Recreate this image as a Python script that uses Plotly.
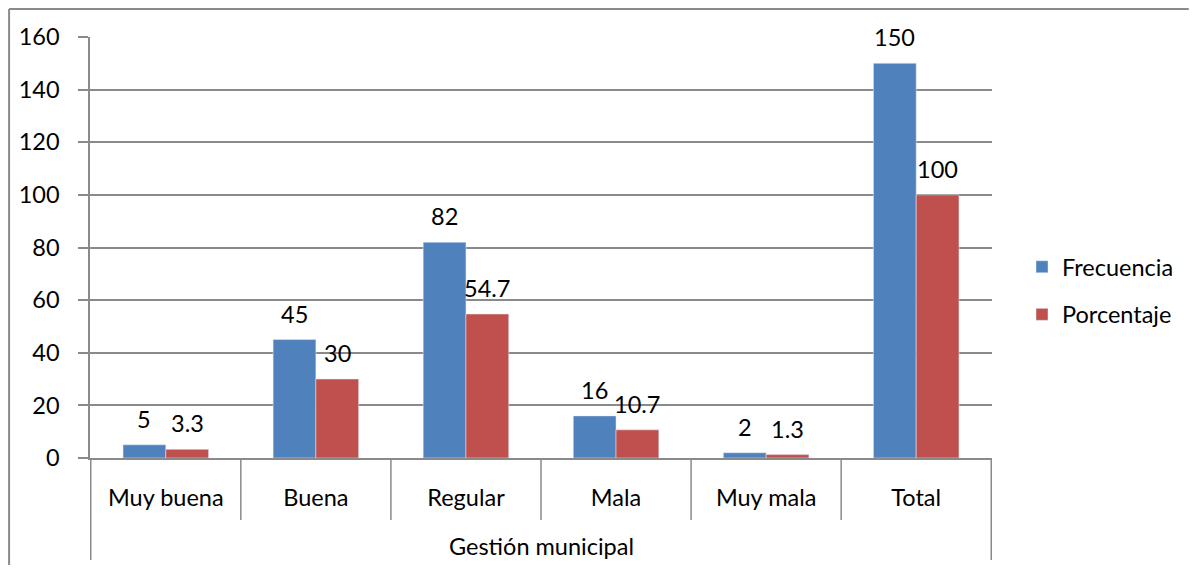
import plotly.graph_objects as go

categories = ["Muy buena", "Buena", "Regular", "Mala", "Muy mala", "Total"]
frecuencia = [5, 45, 82, 16, 2, 150]
porcentaje = [3.3, 30, 54.7, 10.7, 1.3, 100]
group_label = "Gestión municipal"
y_ticks = [0, 20, 40, 60, 80, 100, 120, 140, 160]

FONT = "Lato"
FS = 23.5
GRAY = "#8a8a8a"
BARGAP = 0.43

# page body has an 8px margin; figure origin is at (8, 8) in the window
OFF = 8
W, H = 1182, 557
L = 90 - OFF
T = 37 - OFF
R = OFF + W - 993
B = OFF + H - 458
pw = W - L - R
ph = H - T - B

fig = go.Figure()
fig.add_trace(go.Bar(name="Frecuencia", x=categories, y=frecuencia,
                     marker_color="#4F81BD", legendgroup="a"))
fig.add_trace(go.Bar(name="Porcentaje", x=categories, y=porcentaje,
                     marker_color="#C0504D", legendgroup="b"))

# data labels, centred above each bar
half_bar = pw / len(categories) * (1 - BARGAP) / 4
annotations = []
for series, sign in ((frecuencia, -1), (porcentaje, 1)):
    for cat, v in zip(categories, series):
        annotations.append(dict(x=cat, y=v, xref="x", yref="y", text=str(v),
                                showarrow=False, xshift=sign * half_bar, yshift=26,
                                yanchor="middle",
                                font=dict(size=FS, family=FONT, color="black")))
annotations.append(dict(text=group_label, xref="paper", yref="paper", x=0.5,
                        y=-(546 - 458) / ph, showarrow=False, yanchor="middle",
                        font=dict(size=FS, family=FONT, color="black")))

shapes = []
n = len(categories)
for i in range(n + 1):
    xb = i - 0.5
    outer = i == 0 or i == n
    y1 = -(560 - 458) / ph if outer else -(520 - 458) / ph
    shapes.append(dict(type="line", xref="x", yref="paper", x0=xb, x1=xb, y0=0, y1=y1,
                       line=dict(color=GRAY, width=1.5)))
# outer frame (top and left edges visible)
fx = -(L - 1) / pw
fy = 1 + (T - 1) / ph
shapes.append(dict(type="line", xref="paper", yref="paper",
                   x0=fx, x1=(W - L) / pw, y0=fy, y1=fy,
                   line=dict(color=GRAY, width=2)))
shapes.append(dict(type="line", xref="paper", yref="paper",
                   x0=fx, x1=fx, y0=fy, y1=-B / ph,
                   line=dict(color=GRAY, width=2)))

fig.update_layout(
    width=W, height=H,
    margin=dict(l=L, r=R, t=T, b=B),
    paper_bgcolor="white", plot_bgcolor="white",
    font=dict(family=FONT, size=FS, color="black"),
    barmode="group", bargap=BARGAP, bargroupgap=0,
    showlegend=True,
    legend=dict(x=(1022 - 90) / pw, y=(458 - 291) / ph, xanchor="left", yanchor="middle",
                font=dict(size=FS, family=FONT), tracegroupgap=14,
                itemwidth=30),
    shapes=shapes,
    annotations=annotations,
)
fig.update_xaxes(showline=True, linecolor=GRAY, linewidth=1.5, ticks="",
                 ticklabelstandoff=18, showgrid=False, zeroline=False)
fig.update_yaxes(range=[0, 160], tickvals=y_ticks, showgrid=True, gridcolor=GRAY,
                 gridwidth=1.5, showline=True, linecolor=GRAY, linewidth=1.5,
                 ticks="outside", ticklen=10, tickcolor=GRAY, tickwidth=1.5,
                 ticklabelstandoff=14, zeroline=False)

fig.write_html("out.html")
